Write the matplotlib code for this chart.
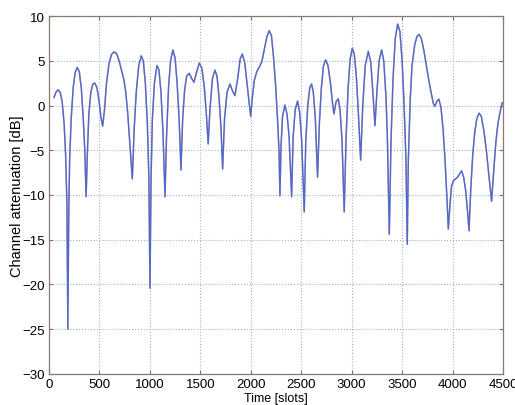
import numpy as np
import matplotlib
matplotlib.use("Agg")
import matplotlib.pyplot as plt


# 시간 축 (slots) 와 채널 감쇠 (dB) - 그림에서 읽은 값
t_slots = [
    50, 70, 90, 110, 130, 150, 165, 178, 187, 196, 205, 220, 240, 260, 280, 300,
    320, 340, 355, 368, 380, 395, 415, 435, 455, 475, 495, 515, 532, 550, 570,
    595, 620, 645, 670, 695, 720, 740, 760, 780, 800, 826, 845, 865, 890, 915,
    935, 955, 975, 990, 1001, 1012, 1025, 1045, 1070, 1090, 1110, 1130, 1150,
    1165, 1185, 1205, 1228, 1250, 1270, 1290, 1308, 1325, 1345, 1365, 1390,
    1415, 1437, 1460, 1490, 1515, 1540, 1560, 1578, 1595, 1620, 1645, 1665,
    1685, 1705, 1721, 1740, 1765, 1794, 1820, 1843, 1870, 1895, 1916, 1940,
    1965, 1985, 1999, 2015, 2035, 2060, 2085, 2110, 2135, 2160, 2183, 2205,
    2225, 2245, 2265, 2280, 2289, 2300, 2315, 2339, 2360, 2380, 2405, 2420,
    2440, 2464, 2485, 2505, 2530, 2545, 2565, 2585, 2603, 2620, 2640, 2662,
    2680, 2700, 2720, 2742, 2765, 2790, 2810, 2824, 2845, 2867, 2885, 2905,
    2926, 2945, 2965, 2985, 3006, 3025, 3045, 3065, 3089, 3110, 3135, 3165,
    3190, 3210, 3231, 3250, 3272, 3297, 3318, 3340, 3355, 3373, 3390, 3410,
    3432, 3456, 3478, 3500, 3520, 3538, 3551, 3562, 3580, 3598, 3605, 3625,
    3647, 3667, 3690, 3715, 3740, 3765, 3790, 3810, 3825, 3845, 3865, 3885,
    3905, 3925, 3945, 3958, 3975, 3990, 4010, 4050, 4090, 4110, 4130, 4150,
    4163, 4180, 4200, 4220, 4240, 4262, 4285, 4310, 4335, 4360, 4387, 4410,
    4430, 4450, 4470, 4492,
]
atten_db = [
    0.9, 1.5, 1.75, 1.5, 0.5, -2.0, -5.5, -11.0, -25.0, -12.0, -6.0, -1.5, 2.0,
    3.7, 4.25, 3.8, 2.0, -1.5, -5.0, -10.2, -5.5, -1.0, 1.5, 2.4, 2.5, 2.0, 0.6,
    -1.3, -2.3, -0.5, 2.5, 4.7, 5.7, 6.0, 5.8, 5.0, 3.9, 3.0, 1.6, -0.8, -4.0,
    -8.2, -2.5, 1.5, 4.5, 5.55, 5.0, 2.5, -2.0, -8.0, -20.4, -8.0, -1.5, 2.5,
    4.45, 4.0, 1.5, -3.0, -10.2, -3.5, 2.0, 5.0, 6.2, 5.3, 2.5, -1.5, -7.2,
    -1.5, 1.8, 3.3, 3.6, 3.0, 2.6, 3.6, 4.75, 4.2, 2.0, -1.0, -4.3, -0.5, 3.0,
    3.95, 3.3, 1.0, -2.5, -7.1, -1.5, 1.5, 2.4, 1.6, 1.1, 3.0, 5.2, 5.75, 4.8,
    2.2, 0.2, -1.2, 0.8, 2.8, 3.8, 4.3, 4.9, 6.3, 7.7, 8.35, 7.8, 5.5, 2.5,
    -1.5, -5.0, -10.1, -4.5, -1.2, 0.05, -1.0, -3.5, -10.2, -3.5, -0.5, 0.5,
    -0.8, -4.0, -11.9, -4.0, 0.0, 2.0, 2.4, 1.5, -1.5, -8.0, -2.0, 2.0, 4.4,
    5.1, 4.5, 2.5, 0.3, -0.95, 0.4, 0.75, -0.5, -4.0, -11.9, -3.5, 2.0, 5.2,
    6.4, 5.8, 3.5, -0.5, -6.1, 0.0, 4.5, 6.05, 4.8, 1.5, -2.25, 1.5, 5.0, 6.2,
    5.0, 1.0, -4.0, -14.4, -4.0, 3.0, 7.5, 9.1, 8.3, 5.0, 0.0, -6.0, -15.5,
    -6.0, 0.5, 4.5, 5.0, 6.8, 7.7, 7.95, 7.5, 6.2, 4.5, 2.8, 1.3, 0.2, -0.1,
    0.5, 0.7, -0.2, -2.5, -6.0, -10.5, -13.8, -11.0, -9.0, -8.4, -8.0, -7.3,
    -8.0, -9.5, -12.0, -14.0, -9.5, -5.5, -3.0, -1.5, -0.85, -1.2, -2.8, -5.0,
    -7.8, -10.7, -7.0, -4.0, -2.0, -0.8, 0.3,
]
# 두 번째 곡선 (빨강) 은 그림에서 파랑과 거의 겹침
atten_db_red = list(atten_db)

X_TICKS = [0, 500, 1000, 1500, 2000, 2500, 3000, 3500, 4000, 4500]
Y_TICKS = [-30, -25, -20, -15, -10, -5, 0, 5, 10]


def main():
    plt.rcParams["font.family"] = ["Liberation Sans", "DejaVu Sans"]
    plt.rcParams["font.size"] = 9

    fig = plt.figure(figsize=(5.15, 4.06), dpi=100)
    ax = fig.add_axes([0.0951, 0.0764, 0.8816, 0.8817])

    ax.plot(t_slots, atten_db_red, color="#d8606c", lw=1.1, alpha=0.6)
    ax.plot(t_slots, atten_db, color="#4a6ccc", lw=1.0)

    ax.set_xlim(0, 4500)
    ax.set_ylim(-30, 10)
    ax.set_xticks(X_TICKS)
    ax.set_yticks(Y_TICKS)

    ax.grid(True, linestyle=":", color="#9fb3c6", lw=0.8)
    ax.tick_params(direction="in", top=True, right=True, length=3,
                   color="#7f6f66", labelsize=9.5, pad=3)
    for sp in ax.spines.values():
        sp.set_color("#8a7a70")
        sp.set_linewidth(0.9)

    ax.set_xlabel("Time [slots]", fontsize=9, labelpad=1)
    ax.set_ylabel("Channel attenuation [dB]", fontsize=10.5, labelpad=-1.5)

    fig.savefig("out.png", dpi=100)
    plt.close(fig)


if __name__ == "__main__":
    main()
